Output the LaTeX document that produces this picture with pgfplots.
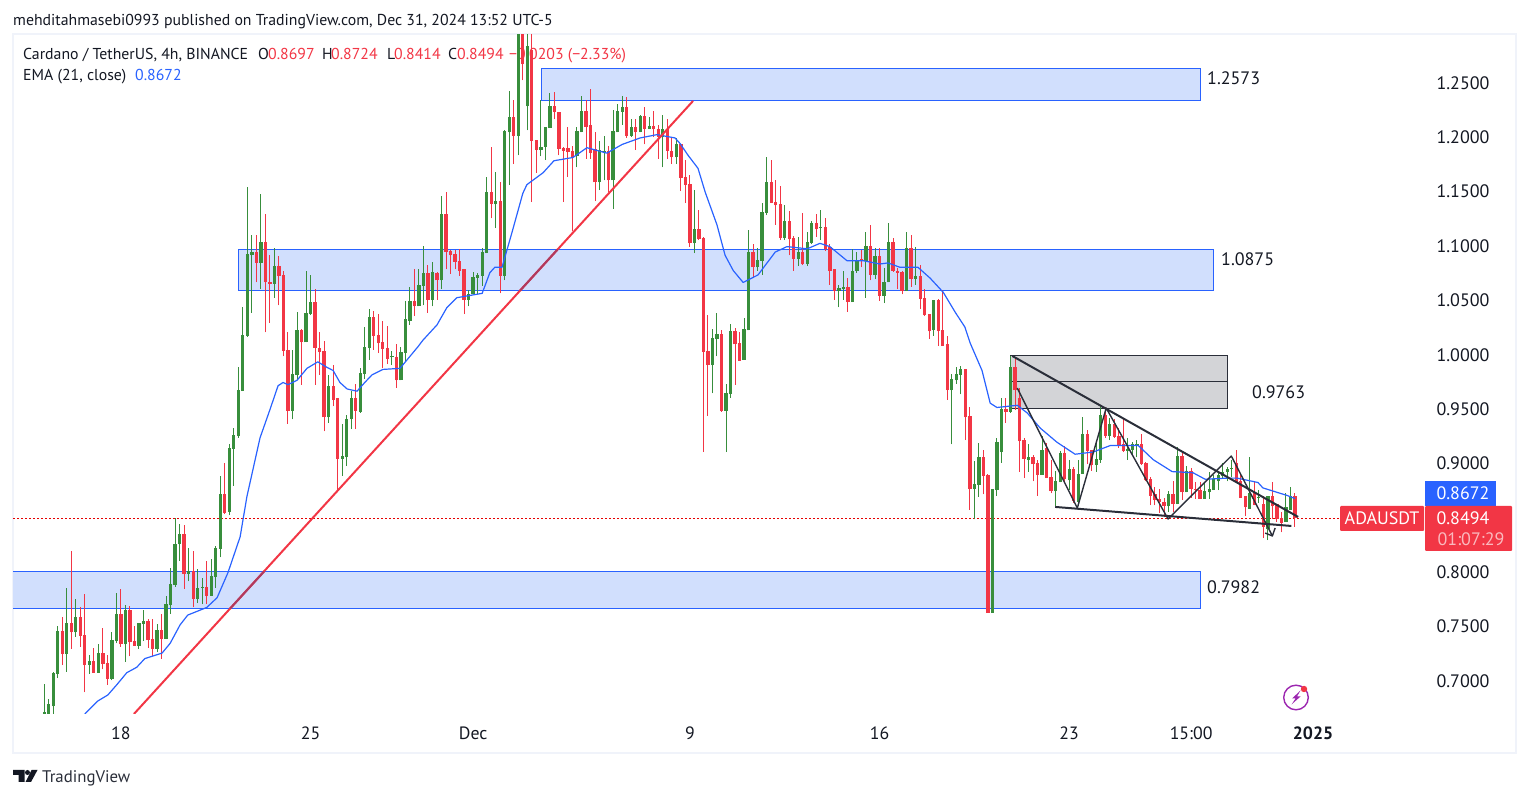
\documentclass[border=0pt]{standalone}
\usepackage{pgfplots}
\usepackage{pgfplotstable}
\usepackage{fontspec}
\pgfplotsset{compat=1.18}
\setmainfont{PT Sans}

\definecolor{cup}{HTML}{388E3C}
\definecolor{cdown}{HTML}{F23645}
\definecolor{cblue}{HTML}{2962FF}
\definecolor{cbox}{HTML}{D1DFFD}
\definecolor{cgrey}{HTML}{D3D4D7}
\definecolor{cdark}{HTML}{2A2E39}
\definecolor{cink}{HTML}{131722}
\definecolor{cframe}{HTML}{F0F3FA}
\definecolor{cmix}{HTML}{B03A5E}
\definecolor{cicon}{HTML}{9C27B0}
\newcommand{\fs}[1]{\fontsize{#1}{#1}\selectfont}

% candles: n = 4h candle number counted from 18 Nov, prices in USDT
\pgfplotstableread{
n low bot top high
-17 .654 .654 .671 .697
-16 .654 .659 .678 .683
-15 .669 .676 .707 .708
-14 .702 .706 .745 .750
-12 .708 .724 .753 .785
-10 .740 .744 .758 .775
-7 .706 .714 .718 .723
-5 .707 .707 .725 .733
-2 .700 .701 .737 .744
-1 .734 .736 .761 .780
1 .717 .733 .765 .769
4 .729 .732 .753 .753
5 .736 .752 .755 .765
8 .726 .729 .746 .752
10 .738 .738 .770 .778
11 .761 .769 .789 .803
12 .786 .788 .825 .849
13 .810 .825 .835 .844
15 .791 .798 .801 .822
17 .771 .775 .785 .802
18 .770 .785 .786 .794
20 .778 .778 .796 .812
21 .785 .795 .822 .824
22 .813 .821 .871 .888
24 .852 .855 .914 .917
25 .879 .913 .926 .932
26 .923 .925 .967 .988
27 .966 .966 1.018 1.043
28 1.016 1.017 1.092 1.154
29 1.038 1.091 1.094 1.110
31 1.060 1.084 1.103 1.147
34 1.052 1.065 1.081 1.098
38 .940 .948 .982 1.004
39 .976 .981 1.022 1.039
41 1.011 1.011 1.038 1.077
42 1.036 1.037 1.048 1.073
46 .937 .942 .971 .981
49 .888 .904 .906 .936
50 .897 .905 .940 .944
51 .931 .940 .960 .966
53 .946 .947 .983 .987
54 .977 .982 1.007 1.025
55 .995 1.006 1.034 1.042
60 .990 .997 .998 1.003
62 .976 .976 1.002 1.007
63 .993 1.001 1.032 1.049
64 1.027 1.031 1.049 1.062
66 1.044 1.044 1.064 1.078
67 1.045 1.063 1.075 1.100
69 1.044 1.050 1.076 1.085
71 1.060 1.068 1.129 1.146
77 1.044 1.050 1.055 1.059
78 1.055 1.055 1.071 1.076
79 1.055 1.070 1.073 1.075
80 1.063 1.072 1.094 1.098
81 1.093 1.093 1.149 1.163
83 1.116 1.138 1.141 1.168
85 1.068 1.072 1.205 1.206
86 1.156 1.204 1.218 1.242
88 1.183 1.201 1.310 1.310
90 1.206 1.228 1.284 1.310
93 1.182 1.188 1.191 1.234
94 1.179 1.191 1.209 1.209
95 1.208 1.208 1.228 1.240
101 1.172 1.182 1.205 1.209
102 1.204 1.204 1.224 1.238
106 1.151 1.158 1.188 1.196
107 1.160 1.186 1.187 1.201
109 1.134 1.160 1.205 1.225
110 1.204 1.204 1.224 1.230
111 1.211 1.223 1.227 1.238
113 1.200 1.201 1.209 1.216
115 1.204 1.204 1.219 1.220
117 1.207 1.207 1.210 1.218
120 1.172 1.200 1.207 1.220
123 1.175 1.181 1.193 1.199
127 1.093 1.102 1.115 1.151
131 .964 .990 1.015 1.023
132 .998 1.014 1.019 1.038
134 .910 .948 .964 .973
135 .960 .963 1.021 1.028
138 .995 .995 1.023 1.033
139 1.022 1.022 1.094 1.114
141 1.077 1.080 1.087 1.098
142 1.073 1.086 1.131 1.139
143 1.128 1.130 1.158 1.181
147 1.105 1.107 1.123 1.137
150 1.081 1.088 1.094 1.108
152 1.081 1.083 1.103 1.112
153 1.101 1.102 1.121 1.123
155 1.105 1.116 1.117 1.133
159 1.043 1.058 1.061 1.064
160 1.050 1.060 1.062 1.077
162 1.048 1.048 1.077 1.097
163 1.075 1.077 1.087 1.094
165 1.052 1.086 1.100 1.112
167 1.069 1.073 1.090 1.098
169 1.047 1.054 1.066 1.079
170 1.066 1.066 1.103 1.121
174 1.058 1.058 1.098 1.112
176 1.064 1.069 1.072 1.099
180 1.017 1.022 1.050 1.050
184 .917 .967 .977 .982
185 .973 .976 .982 .988
186 .963 .981 .986 .989
189 .848 .876 .881 .902
190 .869 .880 .905 .918
193 .762 .762 .876 .876
194 .870 .875 .919 .923
195 .900 .910 .950 .960
197 .946 .947 .988 .998
201 .892 .903 .905 .917
204 .889 .889 .912 .925
207 .860 .874 .883 .893
208 .882 .882 .909 .911
210 .875 .884 .894 .903
212 .860 .864 .890 .903
213 .890 .890 .927 .942
216 .892 .898 .904 .921
217 .900 .903 .944 .951
219 .921 .925 .936 .941
223 .903 .911 .913 .923
224 .907 .912 .917 .919
225 .905 .916 .917 .921
232 .855 .860 .871 .874
234 .862 .862 .906 .915
236 .873 .873 .893 .897
240 .867 .867 .874 .882
241 .867 .873 .876 .892
242 .875 .875 .885 .889
243 .875 .883 .889 .893
244 .886 .888 .892 .900
245 .883 .892 .894 .896
246 .887 .894 .895 .903
250 .858 .858 .872 .905
252 .863 .868 .869 .875
254 .829 .839 .870 .870
258 .846 .846 .859 .872
259 .857 .857 .870 .878
}\upcandles

\pgfplotstableread{
n low bot top high
-13 .714 .724 .745 .758
-11 .729 .744 .753 .819
-9 .731 .741 .758 .767
-8 .689 .714 .742 .779
-6 .707 .707 .718 .730
-4 .710 .715 .725 .748
-3 .696 .701 .716 .723
0 .731 .733 .761 .784
2 .722 .735 .765 .768
3 .732 .732 .736 .750
6 .730 .737 .755 .756
7 .722 .729 .738 .756
9 .720 .738 .746 .761
14 .784 .798 .835 .843
16 .767 .775 .801 .819
19 .770 .778 .786 .810
23 .853 .854 .871 .900
30 1.066 1.084 1.094 1.110
32 1.020 1.066 1.103 1.129
33 1.029 1.065 1.066 1.091
35 1.045 1.072 1.081 1.090
36 .998 1.003 1.073 1.077
37 .936 .948 1.004 1.020
40 .972 1.011 1.022 1.023
43 .972 1.006 1.048 1.060
44 .981 1.002 1.006 1.020
45 .929 .942 1.003 1.012
47 .952 .958 .971 .990
48 .875 .904 .960 .960
52 .931 .948 .960 .973
56 1.004 1.017 1.034 1.040
57 1.001 1.010 1.018 1.037
58 .987 1.005 1.011 1.031
59 .991 .996 1.006 1.026
61 .969 .976 .997 1.009
65 1.035 1.044 1.049 1.078
68 1.038 1.050 1.075 1.082
70 1.050 1.068 1.075 1.076
72 1.078 1.094 1.129 1.149
73 1.074 1.091 1.095 1.096
74 1.078 1.085 1.092 1.096
75 1.072 1.077 1.086 1.097
76 1.037 1.050 1.078 1.078
82 1.125 1.138 1.149 1.191
84 1.056 1.072 1.141 1.158
87 1.175 1.201 1.218 1.234
89 1.252 1.267 1.310 1.310
91 1.140 1.196 1.280 1.310
92 1.167 1.188 1.197 1.197
96 1.216 1.223 1.228 1.241
97 1.183 1.189 1.223 1.223
98 1.140 1.187 1.190 1.191
99 1.163 1.186 1.190 1.209
100 1.113 1.181 1.187 1.192
103 1.180 1.209 1.224 1.234
104 1.180 1.185 1.211 1.244
105 1.141 1.158 1.189 1.204
108 1.149 1.160 1.187 1.192
112 1.199 1.201 1.227 1.237
114 1.188 1.204 1.209 1.216
116 1.193 1.207 1.219 1.227
118 1.200 1.207 1.210 1.224
119 1.180 1.200 1.207 1.211
121 1.180 1.187 1.207 1.216
122 1.175 1.181 1.187 1.200
124 1.150 1.162 1.193 1.193
125 1.139 1.156 1.163 1.179
126 1.099 1.102 1.157 1.165
128 1.105 1.106 1.115 1.133
129 .910 1.002 1.107 1.108
130 .943 .990 1.003 1.036
133 .947 .948 1.019 1.022
136 .972 1.009 1.021 1.024
137 .994 .994 1.010 1.020
140 1.070 1.080 1.094 1.101
144 1.139 1.139 1.158 1.179
145 1.119 1.137 1.140 1.160
146 1.105 1.107 1.138 1.155
148 1.091 1.106 1.123 1.132
149 1.077 1.088 1.107 1.109
151 1.082 1.083 1.094 1.130
154 1.108 1.115 1.121 1.129
156 1.095 1.097 1.117 1.125
157 1.064 1.077 1.099 1.101
158 1.050 1.058 1.078 1.078
161 1.039 1.048 1.062 1.070
164 1.080 1.087 1.088 1.096
166 1.068 1.073 1.100 1.119
168 1.049 1.054 1.090 1.098
171 1.076 1.077 1.103 1.107
172 1.060 1.075 1.077 1.079
173 1.055 1.058 1.076 1.077
175 1.062 1.069 1.098 1.110
177 1.042 1.051 1.072 1.082
178 1.035 1.036 1.052 1.060
179 1.014 1.021 1.037 1.037
181 1.008 1.021 1.050 1.051
182 1.008 1.008 1.022 1.059
183 .958 .967 1.009 1.017
187 .921 .942 .986 .986
188 .857 .876 .943 .951
191 .871 .888 .905 .912
192 .762 .762 .889 .890
196 .937 .947 .950 .960
198 .949 .967 .988 .996
199 .892 .920 .960 .969
200 .886 .904 .921 .923
202 .883 .899 .905 .907
203 .870 .889 .900 .903
205 .886 .886 .914 .918
206 .872 .874 .887 .903
209 .882 .885 .909 .916
211 .863 .865 .894 .896
214 .899 .911 .927 .930
215 .893 .898 .912 .912
218 .923 .925 .944 .951
220 .923 .924 .936 .940
221 .914 .916 .925 .932
222 .910 .911 .917 .940
226 .898 .899 .917 .927
227 .883 .884 .900 .901
228 .861 .870 .885 .887
229 .861 .866 .871 .878
230 .854 .864 .867 .876
231 .850 .860 .864 .868
233 .855 .862 .871 .883
235 .866 .873 .906 .909
237 .868 .876 .893 .895
238 .867 .875 .876 .882
239 .867 .867 .875 .882
247 .882 .882 .900 .912
248 .868 .868 .883 .889
249 .851 .859 .870 .870
251 .861 .861 .872 .882
253 .831 .841 .862 .870
255 .848 .860 .870 .882
256 .846 .848 .862 .862
257 .836 .845 .849 .855
260 .8414 .8494 .8697 .8724
}\downcandles

% EMA 21 on close
\pgfplotstableread{
n ema
-8.0 .669
-5.1 .681
-2.9 .6865
-0.9 .696
1.3 .707
3.5 .712
5.3 .720
9.1 .725
10.9 .734
13.1 .751
14.8 .760
19.0 .767
21.3 .776
23.7 .799
26.4 .832
27.9 .869
30.8 .923
33.0 .949
34.8 .971
35.9 .974
37.0 .972
39.0 .976
41.2 .987
43.6 .993
45.6 .988
47.0 .985
48.5 .974
50.1 .968
52.3 .966
54.0 .974
55.6 .981
58.0 .986
61.8 .987
64.0 .998
65.8 1.007
66.9 1.013
70.0 1.027
72.2 1.043
74.4 1.052
80.0 1.056
81.7 1.075
82.8 1.080
84.4 1.080
86.6 1.112
89.0 1.148
89.9 1.156
93.5 1.167
95.9 1.178
100.1 1.181
103.2 1.190
107.6 1.185
111.0 1.193
115.0 1.199
118.7 1.202
122.7 1.199
123.8 1.194
125.6 1.183
127.8 1.171
129.4 1.149
132.0 1.119
133.8 1.091
135.6 1.077
137.8 1.066
141.1 1.073
144.9 1.094
147.5 1.099
152.0 1.097
154.8 1.102
157.0 1.099
160.8 1.086
164.4 1.086
168.1 1.083
169.9 1.084
172.5 1.080
176.5 1.080
179.2 1.070
182.1 1.057
184.7 1.039
186.9 1.025
188.1 1.010
190.7 .985
192.5 .955
194.0 .951
198.5 .953
200.7 .946
203.6 .932
207.3 .919
211.3 .908
215.3 .910
219.1 .916
225.3 .916
228.6 .903
232.8 .892
237.4 .891
240.1 .885
245.0 .886
247.2 .886
251.8 .882
252.9 .877
258.3 .870
260.0 .8672
}\emaline

\begin{document}
\begin{tikzpicture}
\useasboundingbox (0,0) rectangle (1529pt,798pt);

\begin{scope}[x=1pt,y=-1pt,yshift=798pt]
  \draw[cframe,line width=2pt] (13,34) rectangle (1516,753.5);
  \begin{scope}[every node/.style={inner sep=0pt,anchor=base west,text=cink,font=\fs{15.8}}]
    \node at (13,25.5) {mehditahmasebi0993 published on TradingView.com, Dec 31, 2024 13:52 UTC-5};
    \node at (23,59.8) {Cardano / TetherUS, 4h, BINANCE};
    \node at (258,59.8) {O};
    \node[text=cdown] at (268,59.8) {0.8697};
    \node at (322,59.8) {H};
    \node[text=cdown] at (331,59.8) {0.8724};
    \node at (387,59.8) {L};
    \node[text=cdown] at (394,59.8) {0.8414};
    \node at (448,59.8) {C};
    \node[text=cdown] at (457,59.8) {0.8494};
    \node[text=cdown] at (509,59.8) {−0.0203 (−2.33\%)};
    \node at (23,80.8) {EMA (21, close)};
    \node[text=cblue] at (135,80.8) {0.8672};
    \node[font=\fs{18}] at (1207,85) {1.2573};
    \node[font=\fs{18}] at (1221,266) {1.0875};
    \node[font=\fs{18}] at (1252,399) {0.9763};
    \node[font=\fs{18}] at (1207,594) {0.7982};
    \node[text=cdark,font=\fs{16.8}] at (42,782) {TradingView};
  \end{scope}
\end{scope}

\begin{axis}[
  at={(13pt,84pt)}, anchor=south west,
  scale only axis, width=1412pt, height=679pt,
  xmin=-23.9, xmax=288.8, ymin=0.669, ymax=1.2937,
  axis line style={draw=none}, tick style={draw=none},
  major tick length=0pt,
  xtick={0,42,78,126,168,210,237,264},
  xticklabels={18,25,Dec,9,16,23,15:00,\textbf{2025}},
  xticklabel style={font=\fs{17.8},text=cink,anchor=base,yshift=-25.5pt},
  ytick={0.7,0.75,0.8,0.9,0.95,1,1.05,1.1,1.15,1.2,1.25},
  ytick pos=right,
  yticklabel pos=right,
  yticklabel style={font=\fs{18},text=cink,anchor=west,xshift=8pt,yshift=-0.5pt,
    /pgf/number format/.cd,fixed,fixed zerofill,precision=4,assume math mode=true},
]
% zones
\addplot[draw=cblue,line width=1pt,fill=cbox,forget plot] coordinates {(93.03,1.2334)(239,1.2334)(239,1.2629)(93.03,1.2629)(93.03,1.2334)};
\addplot[draw=cblue,line width=1pt,fill=cbox,forget plot] coordinates {(26.0,1.0586)(241.9,1.0586)(241.9,1.0964)(26.0,1.0964)(26.0,1.0586)};
\addplot[draw=cblue,line width=1pt,fill=cbox,forget plot] coordinates {(-25,0.7661)(239,0.7661)(239,0.8001)(-25,0.8001)(-25,0.7661)};
\addplot[draw=cdark,line width=1pt,fill=cgrey,forget plot] coordinates {(197.1,0.9501)(245,0.9501)(245,0.9984)(197.1,0.9984)(197.1,0.9501)};
\addplot[draw=cdark,line width=1pt,forget plot] coordinates {(197.1,0.9745)(245,0.9745)};
% last price line
\addplot[draw=red!90!black,line width=1pt,dash pattern=on 2pt off 2pt,forget plot] coordinates {(-23.9,0.8490)(270,0.8490)};
% wicks
\addplot[draw=none,mark=none,forget plot,error bars/.cd,y dir=plus,y explicit,error mark=none,
  error bar style={draw=cup,line width=1pt}]
  table[x=n,y=low,y error expr=\thisrow{high}-\thisrow{low}] {\upcandles};
\addplot[draw=none,mark=none,forget plot,error bars/.cd,y dir=plus,y explicit,error mark=none,
  error bar style={draw=cdown,line width=1pt}]
  table[x=n,y=low,y error expr=\thisrow{high}-\thisrow{low}] {\downcandles};
% bodies
\addplot[draw=none,mark=none,forget plot,error bars/.cd,y dir=plus,y explicit,error mark=none,
  error bar style={draw=cup,line width=3.3pt}]
  table[x=n,y=bot,y error expr=\thisrow{top}-\thisrow{bot}] {\upcandles};
\addplot[draw=none,mark=none,forget plot,error bars/.cd,y dir=plus,y explicit,error mark=none,
  error bar style={draw=cdown,line width=3.3pt}]
  table[x=n,y=bot,y error expr=\thisrow{top}-\thisrow{bot}] {\downcandles};
% EMA
\addplot[cblue,line width=1.2pt,line join=round,forget plot] table[x=n,y=ema] {\emaline};
% support trend line, darker where it crosses a zone
\addplot[cdown,line width=2pt,forget plot] coordinates {(2.88,0.669)(126.7,1.233)};
\addplot[cmix,line width=2pt,forget plot] coordinates {(24.2,0.7661)(31.7,0.8001)};
\addplot[cmix,line width=2pt,forget plot] coordinates {(88.4,1.0586)(96.7,1.0964)};
% wedge and zigzag
\addplot[cdark,line width=2pt,forget plot] coordinates {(197.4,0.9984)(260.7,0.8503)};
\addplot[cdark,line width=2pt,forget plot] coordinates {(206.9,0.8595)(259.2,0.8420)};
\addplot[cdark,line width=1.4pt,line join=round,forget plot] coordinates {(198.5,0.9689)(211.8,0.8585)(218.2,0.9505)(231.9,0.8484)(245.9,0.9064)(255,0.8328)};
\addplot[cdark,line width=1.4pt,line join=round,forget plot] coordinates {(253.4,0.8355)(255,0.8328)(255.6,0.8401)};
\end{axis}

\begin{scope}[x=1pt,y=-1pt,yshift=798pt]
  % price scale tags
  \fill[cblue] (1425,481) rectangle (1496,506);
  \fill[cdown,rounded corners=1pt] (1425,506) rectangle (1512,551);
  \fill[cdown,rounded corners=1pt] (1340,506) rectangle (1424,531);
  \begin{scope}[every node/.style={inner sep=0pt,anchor=base,text=white,font=\fs{18}}]
    \node at (1463,500) {0.8672};
    \node at (1463,525) {0.8494};
    \node[text=cdown!35!white] at (1471,545.7) {01:07:29};
    \node at (1382,525) {ADAUSDT};
  \end{scope}
  % lightning icon
  \draw[cicon,line width=1.4pt] (1296,697.5) circle (12.3);
  \fill[cicon] (1300.5,690.5) -- (1292,698.5) -- (1295.5,698.5) -- (1291.5,704.5) -- (1300.5,696.5) -- (1297,696.5) -- cycle;
  \fill[cdown] (1304,689) circle (3.2);
  % TradingView mark
  \fill[cink] (13,770) rectangle (24.5,775) (18.5,775) rectangle (24.5,782);
  \fill[cink] (27.5,772.5) circle (2.5);
  \fill[cink] (31.5,770) -- (37.5,770) -- (31,782) -- (25.5,782) -- cycle;
\end{scope}
\end{tikzpicture}
\end{document}
